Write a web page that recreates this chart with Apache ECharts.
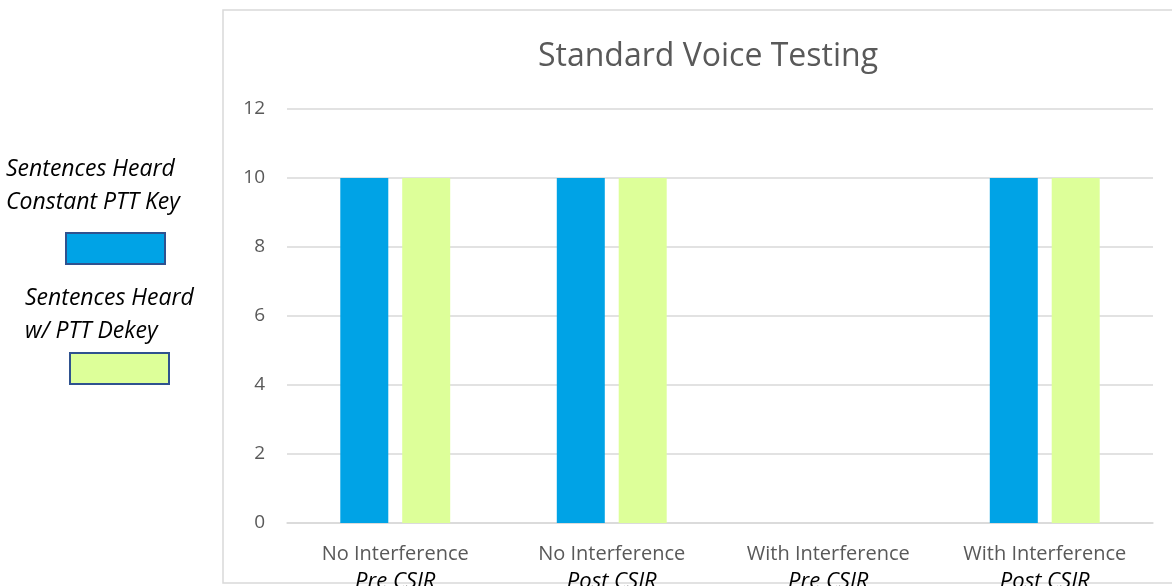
<!DOCTYPE html>
<html lang="en">
<head>
    <meta charset="UTF-8">
    <title>Standard Voice Testing</title>
    <script src="https://cdn.jsdelivr.net/npm/echarts@6/dist/echarts.min.js"></script>
    <style>
        html, body { margin: 0; padding: 0; background: #fff; }
        #box { width: 1172px; height: 586px; }
    </style>
</head>
<body>
<div id="box"></div>
<script>
    // data
    var catLine1 = ['No Interference', 'No Interference', 'With Interference', 'With Interference'];
    var catLine2 = ['Pre CSIR', 'Post CSIR', 'Pre CSIR', 'Post CSIR'];
    var seriesNames = ['Sentences Heard\nConstant PTT Key', 'Sentences Heard\nw/ PTT Dekey'];
    var constantKey = [10, 10, 0, 10];
    var pttDekey = [10, 10, 0, 10];
    var yTicks = [0, 2, 4, 6, 8, 10, 12];

    var colors = ['#00a3e6', '#ddff99'];
    var font = '"Open Sans", "Noto Sans", sans-serif';

    var myChart = echarts.init(document.getElementById('box'));

    var option = {
        animation: false,
        title: {
            text: 'Standard Voice Testing',
            left: 703,
            top: 36,
            textAlign: 'center',
            textStyle: { fontFamily: font, fontSize: 32, fontWeight: 'normal', color: '#595959' }
        },
        grid: { left: 287, right: 19, top: 109, bottom: 63, outerBoundsMode: 'none', containLabel: false },
        xAxis: {
            type: 'category',
            data: catLine1,
            axisLine: { lineStyle: { color: '#d9d9d9', width: 1.5 } },
            axisTick: { show: false },
            axisLabel: {
                margin: 18,
                interval: 0,
                formatter: function (v, i) {
                    return '{a|' + v + '}\n{b|' + catLine2[i] + '}';
                },
                rich: {
                    a: { fontFamily: font, fontSize: 20, color: '#595959', lineHeight: 27 },
                    b: { fontFamily: font, fontSize: 22, fontStyle: 'italic', color: '#000', lineHeight: 27 }
                }
            }
        },
        yAxis: {
            type: 'value',
            min: yTicks[0],
            max: yTicks[yTicks.length - 1],
            interval: 2,
            axisLine: { show: false },
            axisTick: { show: false },
            axisLabel: { margin: 22, fontFamily: font, fontSize: 19, color: '#595959' },
            splitLine: { lineStyle: { color: '#d9d9d9', width: 1.5 } }
        },
        series: [
            { name: seriesNames[0], type: 'bar', data: constantKey, barWidth: 48, barGap: '29%', itemStyle: { color: colors[0] } },
            { name: seriesNames[1], type: 'bar', data: pttDekey, barWidth: 48, itemStyle: { color: colors[1] } }
        ],
        graphic: [
            // chart area border
            { type: 'rect', shape: { x: 223, y: 10, width: 960, height: 573 }, style: { fill: 'none', stroke: '#d9d9d9', lineWidth: 1.5 }, silent: true },
            // custom legend
            { type: 'text', left: 6, top: 153, style: { text: seriesNames[0], font: 'italic 23px ' + font, fill: '#000', lineHeight: 33 } },
            { type: 'rect', shape: { x: 66, y: 233, width: 99, height: 31 }, style: { fill: colors[0], stroke: '#2f528f', lineWidth: 2 } },
            { type: 'text', left: 25, top: 282, style: { text: seriesNames[1], font: 'italic 23px ' + font, fill: '#000', lineHeight: 33 } },
            { type: 'rect', shape: { x: 70, y: 353, width: 99, height: 31 }, style: { fill: colors[1], stroke: '#2f528f', lineWidth: 2 } }
        ]
    };

    myChart.setOption(option);
</script>
</body>
</html>
